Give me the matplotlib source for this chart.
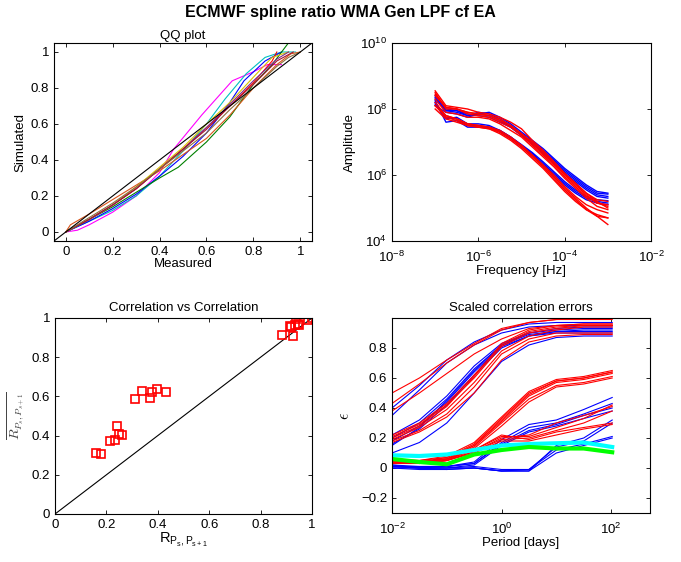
import matplotlib
matplotlib.use('Agg')
import matplotlib.pyplot as plt
import numpy as np

plt.rcParams['font.family'] = ['Liberation Sans', 'DejaVu Sans']
plt.rcParams['mathtext.fontset'] = 'custom'
plt.rcParams['mathtext.rm'] = 'Liberation Sans'
plt.rcParams['mathtext.it'] = 'Liberation Sans:italic'
plt.rcParams['mathtext.bf'] = 'Liberation Sans:bold'
plt.rcParams['axes.unicode_minus'] = True

# ---------------- QQ plot data ----------------
qq_lines = [
    # (colour, measured, simulated)
    ('#ff00ff', [0, 0.05, 0.1, 0.2, 0.3, 0.4, 0.46, 0.58, 0.71, 0.8, 0.86, 0.92],
                [0, 0.01, 0.04, 0.11, 0.2, 0.33, 0.46, 0.65, 0.84, 0.89, 0.93, 0.93]),
    ('#00bfbf', [0, 0.1, 0.2, 0.3, 0.4, 0.5, 0.6, 0.68, 0.77, 0.85, 0.92, 0.98],
                [0, 0.06, 0.12, 0.2, 0.31, 0.45, 0.6, 0.74, 0.88, 0.97, 1.0, 1.0]),
    ('#0000ff', [0, 0.1, 0.2, 0.3, 0.4, 0.5, 0.6, 0.7, 0.76, 0.85, 0.92],
                [0, 0.06, 0.13, 0.21, 0.31, 0.42, 0.55, 0.72, 0.84, 0.95, 1.0]),
    ('#008000', [0, 0.1, 0.2, 0.3, 0.4, 0.48, 0.6, 0.7, 0.8, 0.88, 0.955],
                [0, 0.07, 0.14, 0.22, 0.3, 0.36, 0.5, 0.64, 0.82, 0.93, 1.06]),
    ('#ff0000', [0, 0.1, 0.2, 0.3, 0.4, 0.5, 0.6, 0.7, 0.8, 0.88, 0.9],
                [0, 0.07, 0.15, 0.24, 0.35, 0.46, 0.58, 0.7, 0.83, 0.95, 1.0]),
    ('#d95319', [0, 0.02, 0.1, 0.2, 0.3, 0.4, 0.5, 0.6, 0.7, 0.8, 0.9, 0.96, 1.0],
                [0, 0.04, 0.1, 0.18, 0.26, 0.34, 0.43, 0.52, 0.65, 0.8, 0.93, 0.99, 1.0]),
    ('#d9c000', [0, 0.1, 0.2, 0.3, 0.4, 0.5, 0.6, 0.7, 0.8, 0.88, 0.95],
                [0, 0.07, 0.15, 0.25, 0.36, 0.47, 0.6, 0.72, 0.86, 0.97, 1.0]),
    ('#7e2f8e', [0, 0.1, 0.2, 0.3, 0.4, 0.5, 0.6, 0.7, 0.8, 0.9, 0.95],
                [0, 0.07, 0.15, 0.24, 0.35, 0.46, 0.58, 0.71, 0.84, 0.96, 1.0]),
    ('#a2142f', [0, 0.1, 0.2, 0.3, 0.4, 0.5, 0.6, 0.7, 0.8, 0.9, 0.97],
                [0, 0.07, 0.15, 0.24, 0.35, 0.46, 0.57, 0.7, 0.82, 0.95, 1.0]),
    ('#8c6e3c', [0, 0.1, 0.2, 0.3, 0.4, 0.5, 0.6, 0.7, 0.8, 0.9, 0.95, 1.0],
                [0, 0.08, 0.16, 0.25, 0.35, 0.45, 0.55, 0.68, 0.8, 0.92, 0.97, 1.0]),
]
qq_diag = [-0.05, 1.05]

# ---------------- Amplitude spectra (log10 values) ----------------
log_freq = [-7, -6.75, -6.5, -6.25, -6, -5.75, -5.5, -5.25, -5, -4.75,
            -4.5, -4.25, -4, -3.75, -3.5, -3.25, -3]
amp_blue = [
    [8.35, 7.95, 7.95, 7.80, 7.90, 7.85, 7.70, 7.50, 7.25, 7.00, 6.75, 6.45, 6.15, 5.90, 5.65, 5.45, 5.42],
    [8.25, 7.60, 7.65, 7.45, 7.45, 7.45, 7.35, 7.15, 6.90, 6.65, 6.35, 6.05, 5.75, 5.50, 5.30, 5.20, 5.15],
    [8.10, 7.90, 7.85, 7.75, 7.85, 7.90, 7.75, 7.55, 7.30, 7.05, 6.80, 6.50, 6.20, 5.95, 5.70, 5.50, 5.45],
    [8.40, 8.00, 7.95, 7.85, 7.80, 7.75, 7.60, 7.45, 7.20, 6.95, 6.65, 6.35, 6.05, 5.80, 5.55, 5.35, 5.30],
    [8.20, 7.75, 7.70, 7.50, 7.50, 7.45, 7.30, 7.10, 6.85, 6.60, 6.30, 6.00, 5.70, 5.45, 5.25, 5.15, 5.10],
    [8.30, 7.95, 7.90, 7.80, 7.85, 7.80, 7.65, 7.45, 7.20, 6.95, 6.70, 6.40, 6.10, 5.85, 5.60, 5.40, 5.35],
    [8.15, 7.70, 7.75, 7.55, 7.55, 7.50, 7.35, 7.15, 6.92, 6.68, 6.40, 6.10, 5.80, 5.55, 5.35, 5.25, 5.22],
]
amp_red = [
    [8.55, 8.10, 8.05, 8.00, 7.90, 7.85, 7.75, 7.60, 7.40, 7.05, 6.75, 6.40, 6.05, 5.75, 5.45, 5.25, 5.20],
    [8.45, 8.05, 8.00, 7.90, 7.85, 7.80, 7.65, 7.50, 7.25, 6.95, 6.65, 6.35, 6.00, 5.70, 5.40, 5.15, 5.05],
    [8.20, 7.80, 7.70, 7.55, 7.50, 7.45, 7.35, 7.15, 6.90, 6.60, 6.30, 5.95, 5.60, 5.30, 5.00, 4.75, 4.50],
    [8.10, 7.75, 7.65, 7.50, 7.45, 7.40, 7.30, 7.10, 6.85, 6.55, 6.25, 5.90, 5.55, 5.25, 4.95, 4.80, 4.70],
    [8.00, 7.70, 7.60, 7.50, 7.45, 7.40, 7.25, 7.05, 6.80, 6.50, 6.20, 5.85, 5.50, 5.20, 4.95, 4.75, 4.70],
    [8.50, 8.00, 8.00, 7.90, 7.85, 7.80, 7.70, 7.50, 7.25, 7.00, 6.70, 6.40, 6.05, 5.75, 5.45, 5.20, 5.00],
    [8.30, 7.90, 7.85, 7.75, 7.75, 7.70, 7.55, 7.35, 7.15, 6.85, 6.55, 6.25, 5.90, 5.60, 5.30, 5.05, 4.95],
    [8.40, 8.05, 8.00, 7.85, 7.80, 7.75, 7.60, 7.45, 7.20, 6.90, 6.60, 6.30, 5.95, 5.65, 5.35, 5.15, 5.10],
    [8.10, 7.80, 7.70, 7.55, 7.50, 7.45, 7.30, 7.10, 6.90, 6.60, 6.30, 6.00, 5.65, 5.35, 5.10, 4.95, 4.85],
]

# ---------------- Correlation vs correlation ----------------
r_obs = [0.158, 0.179, 0.214, 0.234, 0.240, 0.249, 0.261, 0.310, 0.338, 0.370,
         0.378, 0.397, 0.431, 0.883, 0.916, 0.925, 0.932, 0.938, 0.945, 0.950,
         0.920, 0.983, 1.0]
r_sim = [0.312, 0.308, 0.375, 0.378, 0.449, 0.408, 0.405, 0.586, 0.627, 0.590,
         0.622, 0.637, 0.624, 0.915, 0.961, 0.910, 0.966, 0.997, 0.969, 0.965,
         0.955, 0.992, 1.0]

# ---------------- Scaled correlation errors ----------------
log_period = [-2, -1.5, -1, -0.5, 0, 0.5, 1, 1.5, 2.02]
err_blue = [
    [0.40, 0.55, 0.72, 0.84, 0.92, 0.96, 0.97, 0.97, 0.97],
    [0.35, 0.52, 0.70, 0.82, 0.90, 0.94, 0.95, 0.95, 0.95],
    [0.22, 0.32, 0.48, 0.68, 0.83, 0.90, 0.92, 0.93, 0.93],
    [0.20, 0.30, 0.46, 0.66, 0.82, 0.89, 0.91, 0.92, 0.92],
    [0.18, 0.28, 0.44, 0.64, 0.81, 0.88, 0.91, 0.91, 0.91],
    [0.16, 0.26, 0.42, 0.62, 0.80, 0.88, 0.90, 0.90, 0.90],
    [0.15, 0.27, 0.45, 0.65, 0.82, 0.90, 0.93, 0.94, 0.94],
    [0.10, 0.17, 0.30, 0.50, 0.71, 0.82, 0.87, 0.88, 0.88],
    [0.02, 0.01, 0.01, 0.04, 0.19, 0.29, 0.32, 0.39, 0.47],
    [0.01, 0.01, 0.01, 0.03, 0.17, 0.27, 0.30, 0.36, 0.43],
    [0.02, 0.00, 0.01, 0.03, 0.16, 0.25, 0.29, 0.35, 0.40],
    [0.01, 0.00, 0.00, 0.02, 0.15, 0.24, 0.28, 0.33, 0.38],
    [0.01, 0.00, 0.00, 0.00, -0.02, -0.02, 0.15, 0.20, 0.32],
    [0.00, 0.00, -0.01, 0.00, -0.02, -0.01, 0.14, 0.18, 0.30],
    [0.01, 0.00, 0.00, 0.01, -0.01, -0.01, 0.12, 0.16, 0.21],
    [0.00, -0.01, -0.01, 0.00, -0.02, -0.02, 0.10, 0.15, 0.20],
]
err_red = [
    [0.50, 0.60, 0.72, 0.83, 0.93, 0.97, 0.99, 1.00, 1.00],
    [0.43, 0.56, 0.70, 0.82, 0.92, 0.97, 0.99, 0.99, 0.99],
    [0.38, 0.50, 0.63, 0.76, 0.86, 0.93, 0.95, 0.96, 0.96],
    [0.22, 0.30, 0.43, 0.62, 0.82, 0.91, 0.94, 0.95, 0.95],
    [0.21, 0.29, 0.42, 0.60, 0.81, 0.90, 0.93, 0.95, 0.95],
    [0.19, 0.27, 0.39, 0.57, 0.78, 0.88, 0.92, 0.94, 0.94],
    [0.18, 0.25, 0.36, 0.54, 0.76, 0.86, 0.90, 0.90, 0.90],
    [0.17, 0.24, 0.34, 0.50, 0.72, 0.84, 0.88, 0.89, 0.89],
    [0.20, 0.28, 0.41, 0.61, 0.83, 0.92, 0.95, 0.96, 0.96],
    [0.06, 0.05, 0.08, 0.17, 0.34, 0.51, 0.59, 0.61, 0.65],
    [0.05, 0.05, 0.07, 0.16, 0.33, 0.50, 0.58, 0.60, 0.64],
    [0.05, 0.04, 0.07, 0.15, 0.32, 0.49, 0.58, 0.60, 0.64],
    [0.04, 0.04, 0.06, 0.15, 0.31, 0.48, 0.57, 0.59, 0.63],
    [0.05, 0.04, 0.06, 0.14, 0.30, 0.46, 0.55, 0.57, 0.61],
    [0.04, 0.03, 0.05, 0.13, 0.28, 0.44, 0.54, 0.56, 0.60],
    [0.05, 0.04, 0.06, 0.12, 0.21, 0.21, 0.27, 0.33, 0.42],
    [0.04, 0.04, 0.05, 0.11, 0.20, 0.22, 0.30, 0.35, 0.41],
    [0.05, 0.04, 0.06, 0.12, 0.22, 0.19, 0.24, 0.27, 0.30],
    [0.04, 0.03, 0.05, 0.11, 0.19, 0.20, 0.25, 0.30, 0.38],
    [0.03, 0.03, 0.05, 0.10, 0.18, 0.18, 0.22, 0.26, 0.29],
]
err_cyan = [0.085, 0.08, 0.09, 0.12, 0.15, 0.16, 0.165, 0.17, 0.14]
err_green = [0.06, 0.04, 0.025, 0.09, 0.12, 0.14, 0.13, 0.13, 0.105]

FS = 9.5


def matlab_axes(ax):
    ax.tick_params(direction='in', top=True, right=True, length=3,
                   labelsize=FS, width=0.6)
    ax.tick_params(which='minor', length=0)
    for s in ax.spines.values():
        s.set_linewidth(0.8)


fig = plt.figure(figsize=(6.81, 5.62), dpi=100)
W, H = 681, 562


def add_ax(l, t, r, b):
    return fig.add_axes([l / W, 1 - b / H, (r - l) / W, (b - t) / H])


# QQ plot
ax1 = add_ax(54, 43, 312, 241)
for col, xm, ys in qq_lines:
    ax1.plot(xm, ys, color=col, lw=0.8)
ax1.plot(qq_diag, qq_diag, color='k', lw=0.8)
ax1.set_xlim(-0.05, 1.05)
ax1.set_ylim(-0.05, 1.05)
ax1.set_xticks(np.arange(0, 1.01, 0.2))
ax1.set_yticks(np.arange(0, 1.01, 0.2))
ax1.set_xticklabels(['0', '0.2', '0.4', '0.6', '0.8', '1'])
ax1.set_yticklabels(['0', '0.2', '0.4', '0.6', '0.8', '1'])
ax1.set_xlabel('Measured', fontsize=FS, labelpad=0)
ax1.set_ylabel('Simulated', fontsize=FS, labelpad=3)
ax1.set_title('QQ plot', fontsize=FS, pad=3)
matlab_axes(ax1)

# Amplitude spectra
ax2 = add_ax(392, 43, 651, 241)
freq = 10.0 ** np.array(log_freq)
for a in amp_blue:
    ax2.plot(freq, 10.0 ** np.array(a), color='#0000ff', lw=1.0)
for a in amp_red:
    ax2.plot(freq, 10.0 ** np.array(a), color='#ff0000', lw=1.0)
ax2.set_xscale('log')
ax2.set_yscale('log')
ax2.set_xlim(1e-8, 1e-2)
ax2.set_ylim(1e4, 1e10)
ax2.set_xticks([1e-8, 1e-6, 1e-4, 1e-2])
ax2.set_yticks([1e4, 1e6, 1e8, 1e10])
ax2.set_xlabel('Frequency [Hz]', fontsize=FS, labelpad=0)
ax2.set_ylabel('Amplitude', fontsize=FS, labelpad=3)
matlab_axes(ax2)
ax2.tick_params(axis='x', pad=6)

# Correlation vs correlation
ax3 = add_ax(55, 318, 312, 514)
ax3.plot([0, 1], [0, 1], color='k', lw=0.8)
ax3.plot(r_obs, r_sim, 's', mfc='none', mec='#ff0000', ms=5.5, mew=1.2)
ax3.set_xlim(0, 1)
ax3.set_ylim(0, 1)
ax3.set_xticks(np.arange(0, 1.01, 0.2))
ax3.set_yticks(np.arange(0, 1.01, 0.2))
ax3.set_xticklabels(['0', '0.2', '0.4', '0.6', '0.8', '1'])
ax3.set_yticklabels(['0', '0.2', '0.4', '0.6', '0.8', '1'])
ax3.set_xlabel(r'R$_{\mathrm{P}_{\mathrm{s}},\mathrm{P}_{\mathrm{s+1}}}$',
               fontsize=FS + 1, labelpad=0)
ax3.set_ylabel(r'$\overline{R_{P_s,P_{s+1}}}$', fontsize=FS + 0.5,
               labelpad=3, math_fontfamily='cm', color='#444444')
ax3.set_title('Correlation vs Correlation', fontsize=FS, pad=5)
matlab_axes(ax3)

# Scaled correlation errors
ax4 = add_ax(392, 318, 650, 513)
period = 10.0 ** np.array(log_period)
for e in err_blue:
    ax4.plot(period, e, color='#0000ff', lw=0.8)
for e in err_red:
    ax4.plot(period, e, color='#ff0000', lw=0.8)
ax4.plot(period, err_cyan, color='#00ffff', lw=3)
ax4.plot(period, err_green, color='#00ff00', lw=3)
ax4.set_xscale('log')
ax4.set_xlim(1e-2, 10 ** 2.71)
ax4.set_ylim(-0.3, 1.0)
ax4.set_xticks([1e-2, 1e0, 1e2])
ax4.set_yticks([-0.2, 0, 0.2, 0.4, 0.6, 0.8])
ax4.set_yticklabels(['\u22120.2', '0', '0.2', '0.4', '0.6', '0.8'])
ax4.set_xlabel('Period [days]', fontsize=FS, labelpad=0)
ax4.set_ylabel(r'$\epsilon$', fontsize=FS + 2, labelpad=6, math_fontfamily='cm')
ax4.set_title('Scaled correlation errors', fontsize=FS, pad=5)
matlab_axes(ax4)
ax4.tick_params(axis='x', pad=6)

fig.text(0.5, 1 - 12 / H, 'ECMWF spline ratio WMA Gen LPF cf EA',
         ha='center', va='center', fontsize=11.5, fontweight='bold')

fig.savefig('out.png', dpi=100)
